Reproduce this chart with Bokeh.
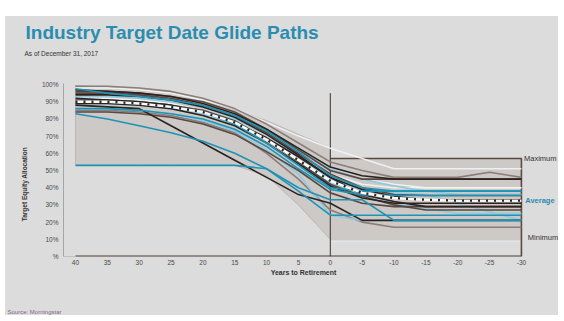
from math import pi

from bokeh.core.properties import value
from bokeh.embed import file_html
from bokeh.layouts import column, row
from bokeh.models import FixedTicker, Label, Range1d, Spacer
from bokeh.plotting import figure
from bokeh.resources import INLINE

# ---- data -----------------------------------------------------------------
years = [40, 35, 30, 25, 20, 15, 10, 5, 0, -5, -10, -15, -20, -25, -30]
x_ticks = [40, 35, 30, 25, 20, 15, 10, 5, 0, -5, -10, -15, -20, -25, -30]
x_tick_labels = ["40", "35", "30", "25", "20", "15", "10", "5", "0",
                 "-5", "-10", "-15", "-20", "-25", "-30"]
y_ticks = [0, 10, 20, 30, 40, 50, 60, 70, 80, 90, 100]
y_tick_labels = ["%", "10%", "20%", "30%", "40%", "50%",
                 "60%", "70%", "80%", "90%", "100%"]

# range of all glide paths before retirement
env_years = [40, 35, 30, 25, 20, 15, 10, 5, 0]
env_max = [99.5, 98.5, 97, 95.5, 91, 85.5, 79, 71, 63]
env_min = [53, 53, 53, 53, 53, 53, 47, 30, 10]
# range of all glide paths after retirement
post_years = [0, -30]
post_max = 57
post_min = 9

dark_paths = [
    [97, 96, 95, 93, 89, 83, 74, 63, 52, 47, 45, 45, 45, 45, 45],
    [88, 87, 86, 76, 66, 56, 46, 36, 31, 21, 21, 21, 21, 21, 21],
    [92, 91, 90, 88, 84, 78, 69, 58, 46, 39, 35, 33, 33, 33, 33],
    [89, 89, 88, 86, 82, 76, 66, 54, 41, 34, 31, 31, 31, 31, 31],
    [94, 94, 93, 91, 87, 81, 71, 59, 46, 36, 32, 29, 29, 29, 29],
]
brown_paths = [
    [95, 95, 94, 92, 88, 82, 72, 60, 48, 40, 36, 35.5, 35.5, 35.5, 35.5],
    [91, 91, 90, 88, 85, 79, 68, 55, 42, 35, 30, 27, 27, 27, 27],
    [84, 84, 83, 81, 77, 71, 61, 50, 37, 31, 29, 29, 29, 29, 29],
    [96, 96, 95, 93, 90, 84, 74, 62, 50, 45, 45, 45, 45, 45, 45],
]
taupe_paths = [
    [99, 99, 98, 96, 92, 86, 77, 66, 55, 50, 46, 46, 46, 49, 46],
    [85, 85, 84, 82, 78, 72, 60, 45, 27, 20, 17, 17, 17, 17, 17],
]
teal_paths = [
    [97.5, 95, 93, 91, 88, 82, 73, 61, 47, 40, 38, 38, 38, 38, 38],
    [86, 86, 85, 83, 80, 74, 64, 51, 39, 36, 35.5, 35.5, 35.5, 35.5, 35.5],
    [83, 80, 76, 72, 67, 60, 51, 40, 33, 33, 21, 21, 21, 21, 21],
    [53, 53, 53, 53, 53, 53, 51, 38, 24, 24, 24, 24, 24, 24, 24],
    [90, 90, 89, 87, 84, 77, 66, 53, 40, 38, 38, 38, 38, 38, 38],
]
light_blue_paths = [
    [93, 93, 92, 90, 87, 82, 74, 63, 51, 45, 41, 38, 36, 36, 36],
    [89, 89, 88, 86, 83, 77, 68, 56, 43, 36, 31, 28, 25, 25, 25],
    [91, 91, 90, 88, 85, 80, 71, 58, 45, 39, 37, 36, 31, 26, 21],
    [86, 86, 85, 83, 79, 73, 62, 48, 24, 21, 21, 21, 21, 21, 21],
]
white_paths = [
    [98, 98, 97, 95, 91, 86, 78, 70, 63, 57, 51, 51, 51, 51, 51],
    [94, 94, 93, 91, 88, 83, 74, 63, 51, 45, 42, 40, 40, 40, 40],
    [92, 92, 91, 89, 85, 80, 71, 60, 48, 42, 40, 40, 40, 40, 40],
]
average_path = [90, 90, 89, 87, 84, 78, 68, 56, 44, 37, 34, 33, 32.5, 32.5, 32.5]

# ---- styling --------------------------------------------------------------
SLIDE = "#dcdcdc"
BAND = "#cac6c4"
FONT = "Liberation Sans"
TEAL_TEXT = "#2a8db0"


def blank_panel(width, height, x0, x1, y0, y1):
    """A bare slide strip whose data units are page pixels (y grows down)."""
    f = figure(width=width, height=height,
               x_range=Range1d(x0, x1), y_range=Range1d(y1, y0),
               x_axis_type=None, y_axis_type=None,
               output_backend="svg", toolbar_location=None,
               min_border=0, min_border_left=0, min_border_right=0,
               min_border_top=0, min_border_bottom=0,
               background_fill_color=SLIDE, border_fill_color=SLIDE)
    f.outline_line_color = None
    f.grid.visible = False
    return f


def put_text(f, x, y, text, size, color="#333333", style="normal",
             align="left", baseline="alphabetic", angle=0):
    f.text(x=[x], y=[y], text=[text], text_font=value(FONT),
           text_font_size=value(size), text_color=color,
           text_font_style=style, text_align=align,
           text_baseline=baseline, angle=angle)


# header: title and date
header = blank_panel(553, 45, 5, 558, 16, 61)
put_text(header, 25, 32, "Industry Target Date Glide Paths", "19px",
         color=TEAL_TEXT, style="bold")
put_text(header, 24, 53, "As of December 31, 2017", "6.5px")

# left strip: vertical axis title
left = blank_panel(30, 208, 5, 35, 61, 269)
put_text(left, 23.5, 182, "Target Equity Allocation", "6.5px", style="bold",
         align="center", baseline="middle", angle=pi / 2)

# footer: horizontal axis title and source
footer = blank_panel(553, 46, 5, 558, 269, 315)
put_text(footer, 303, 272, "Years to Retirement", "7px", style="bold",
         align="center", baseline="middle")
put_text(footer, 7, 311, "Source: Morningstar", "6px", color="#7d6b7d")

# main chart
p = figure(
    width=523, height=208,
    x_range=Range1d(41.88, -35.82), y_range=Range1d(0, 100.6),
    output_backend="svg", toolbar_location=None,
    min_border_left=28, min_border_right=0,
    min_border_top=22, min_border_bottom=13,
    background_fill_color=SLIDE, border_fill_color=SLIDE,
)
p.outline_line_color = None
p.grid.visible = False

p.xaxis.ticker = FixedTicker(ticks=x_ticks)
p.xaxis.major_label_overrides = dict(zip(x_ticks, x_tick_labels))
p.xaxis.axis_line_color = None
p.xaxis.major_tick_line_color = None
p.xaxis.minor_tick_line_color = None
p.xaxis.major_tick_out = 0
p.xaxis.major_label_standoff = 3

p.yaxis.ticker = FixedTicker(ticks=y_ticks)
p.yaxis.major_label_overrides = dict(zip(y_ticks, y_tick_labels))
p.yaxis.axis_line_color = "#a6a6a6"
p.yaxis.major_tick_line_color = None
p.yaxis.minor_tick_line_color = None
p.yaxis.major_tick_out = 0
p.yaxis.major_label_standoff = 5

for ax in (p.xaxis[0], p.yaxis[0]):
    ax.major_label_text_font = FONT
    ax.major_label_text_font_size = "6.5px"
    ax.major_label_text_color = "#4a4a4a"

# shaded ranges
p.patch(env_years + env_years[::-1], env_max + env_min[::-1],
        fill_color=BAND, fill_alpha=0.9, line_color="#bdb7b4", line_width=1)
p.quad(left=[post_years[0]], right=[post_years[1]],
       bottom=[post_min], top=[post_max],
       fill_color=BAND, fill_alpha=0.9, line_color=None)
p.line([post_years[0], post_years[1]], [post_min, post_min],
       line_color="#ebebeb", line_width=1.2)
p.line([post_years[0], post_years[1], post_years[1]], [post_max, post_max, 0],
       line_color="#5a4842", line_width=1.6)

# baseline and retirement marker
p.line([x_ticks[0], x_ticks[-1]], [0, 0], line_color="#4e3d37", line_width=2)
p.line([41.88, x_ticks[0]], [0, 0], line_color="#a6a6a6", line_width=1)
p.line([0, 0], [0, 95], line_color="#3f322d", line_width=1)

# glide paths
for vals in white_paths:
    p.line(years, vals, line_color="#f4f4f4", line_width=1.6, line_alpha=0.9)
for vals in taupe_paths:
    p.line(years, vals, line_color="#8c7d78", line_width=1.6)
for vals in light_blue_paths:
    p.line(years, vals, line_color="#8ccbe0", line_width=1.6)
for vals in brown_paths:
    p.line(years, vals, line_color="#5a4740", line_width=1.6)
for vals in dark_paths:
    p.line(years, vals, line_color="#2c221f", line_width=1.6)
for vals in teal_paths:
    p.line(years, vals, line_color="#1f93b5", line_width=1.6)

# industry average: white line with short dark dashes
p.line(years, average_path, line_color="#fafafa", line_width=2.4)
p.line(years, average_path, line_color="#2c221f", line_width=2.4,
       line_dash="2 6")

# right-hand range labels
for txt, yv, xv, color, style in [
    ("Maximum", 57, -30.4, "#333333", "normal"),
    ("Average", 32.6, -30.6, TEAL_TEXT, "bold"),
    ("Minimum", 11, -31.0, "#333333", "normal"),
]:
    p.add_layout(Label(x=xv, y=yv, text=txt, text_font=FONT,
                       text_font_size="7.5px", text_color=color,
                       text_font_style=style, text_baseline="middle",
                       text_align="left"))

slide = column(header, row(left, p, styles={"background-color": SLIDE}),
               footer, styles={"background-color": SLIDE})
layout = column(Spacer(width=564, height=16),
                row(Spacer(width=5, height=299), slide))

open("out.html", "w").write(file_html(layout, INLINE))
